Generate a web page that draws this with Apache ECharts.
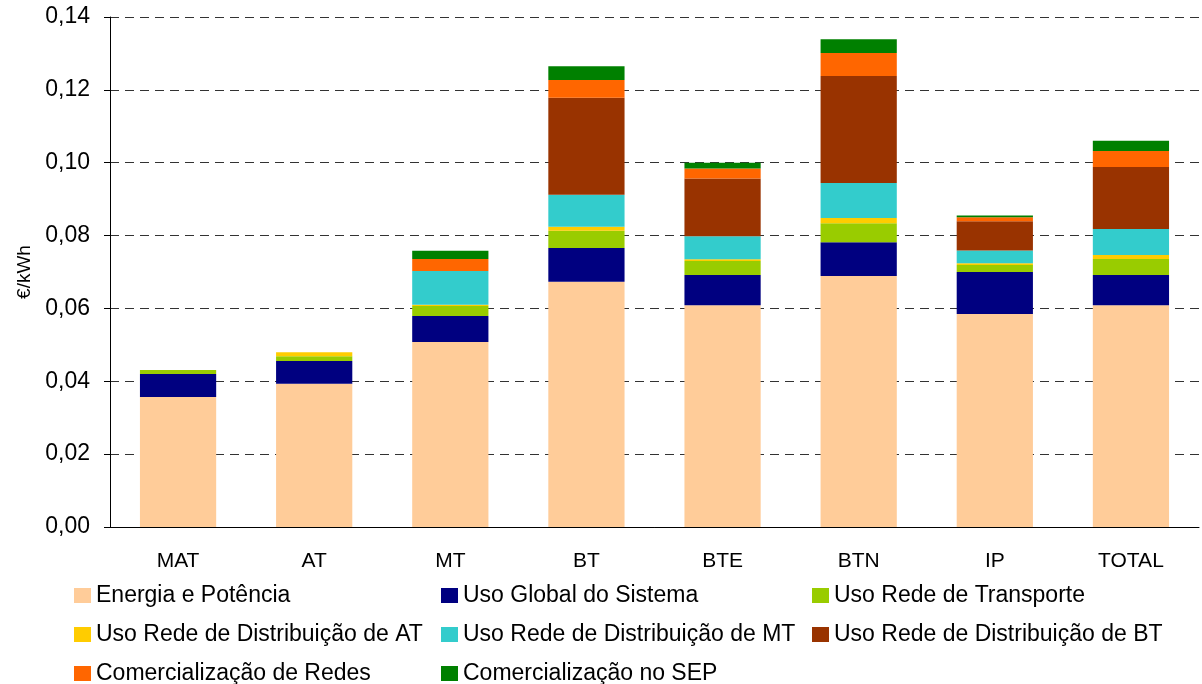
<!DOCTYPE html>
<html><head><meta charset="utf-8">
<script src="https://cdn.jsdelivr.net/npm/echarts@6/dist/echarts.min.js"></script>
<style>html,body{margin:0;padding:0;background:#fff}#c{width:1202px;height:684px}</style>
</head><body><div id="c"></div>
<script>
const categories = ['MAT','AT','MT','BT','BTE','BTN','IP','TOTAL'];
const seriesNames = ['Energia e Potência','Uso Global do Sistema','Uso Rede de Transporte','Uso Rede de Distribuição de AT','Uso Rede de Distribuição de MT','Uso Rede de Distribuição de BT','Comercialização de Redes','Comercialização no SEP'];
const energia      = [0.0357,0.0393,0.0508,0.0673,0.0609,0.0689,0.0585,0.0609];
const usoGlobal    = [0.0063,0.0063,0.0071,0.0093,0.0083,0.0093,0.0115,0.0083];
const transporte   = [0.0011,0.0013,0.0028,0.0047,0.0038,0.0052,0.0019,0.0044];
const distAT       = [0,0.0011,0.0003,0.0011,0.0005,0.0014,0.0005,0.0011];
const distMT       = [0,0,0.0093,0.0088,0.0063,0.0096,0.0035,0.0071];
const distBT       = [0,0,0,0.0266,0.0159,0.0294,0.0080,0.0170];
const comRedes     = [0,0,0.0033,0.0049,0.0027,0.0063,0.0011,0.0044];
const comSEP       = [0,0,0.0022,0.0038,0.0016,0.0038,0.0005,0.0028];
const yTicks = [0,0.02,0.04,0.06,0.08,0.10,0.12,0.14];
const values = [energia,usoGlobal,transporte,distAT,distMT,distBT,comRedes,comSEP];
const colors = ['#FFCC99','#000080','#99CC00','#FFCC00','#33CCCC','#993300','#FF6600','#008000'];

const font = 'Liberation Sans, Arial, sans-serif';
const chart = echarts.init(document.getElementById('c'));
const legendCommon = {orient:'vertical', itemWidth:17, itemHeight:15, itemGap:16, icon:'rect', height:200,
  textStyle:{fontFamily:font,fontSize:23,lineHeight:22,color:'#000',padding:[0,0,0,0]}, selectedMode:false};
chart.setOption({
  animation:false,
  color: colors,
  grid:{left:110,right:3,top:17,bottom:157,containLabel:false},
  xAxis:{type:'category',data:categories,
    axisLine:{lineStyle:{color:'#000',width:1}},axisTick:{show:false},
    axisLabel:{fontFamily:font,fontSize:21,color:'#000',margin:24}},
  yAxis:{type:'value',min:0,max:0.14,interval:0.02,name:'€/kWh',nameLocation:'middle',nameGap:76,
    nameTextStyle:{fontFamily:font,fontSize:19,color:'#000'},
    axisLine:{show:true,lineStyle:{color:'#000',width:1}},
    axisTick:{show:true,inside:false,length:6,lineStyle:{color:'#000'}},
    axisLabel:{fontFamily:font,fontSize:23,color:'#000',margin:20,
      formatter:v=>{const t=yTicks.find(x=>Math.abs(x-v)<1e-9);return (t!==undefined?t:v).toFixed(2).replace('.',',');}},
    splitLine:{show:true,lineStyle:{color:'#333',type:[9,6],width:1}}},
  legend:[
    Object.assign({left:69,top:579,data:[seriesNames[0],seriesNames[3],seriesNames[6]]},legendCommon),
    Object.assign({left:436,top:579,data:[seriesNames[1],seriesNames[4],seriesNames[7]]},legendCommon),
    Object.assign({left:807,top:579,data:[seriesNames[2],seriesNames[5]]},legendCommon)
  ],
  series: seriesNames.map((n,i)=>({name:n,type:'bar',stack:'t',data:values[i],barWidth:'56%',
    itemStyle:{color:colors[i]}}))
});
</script></body></html>
